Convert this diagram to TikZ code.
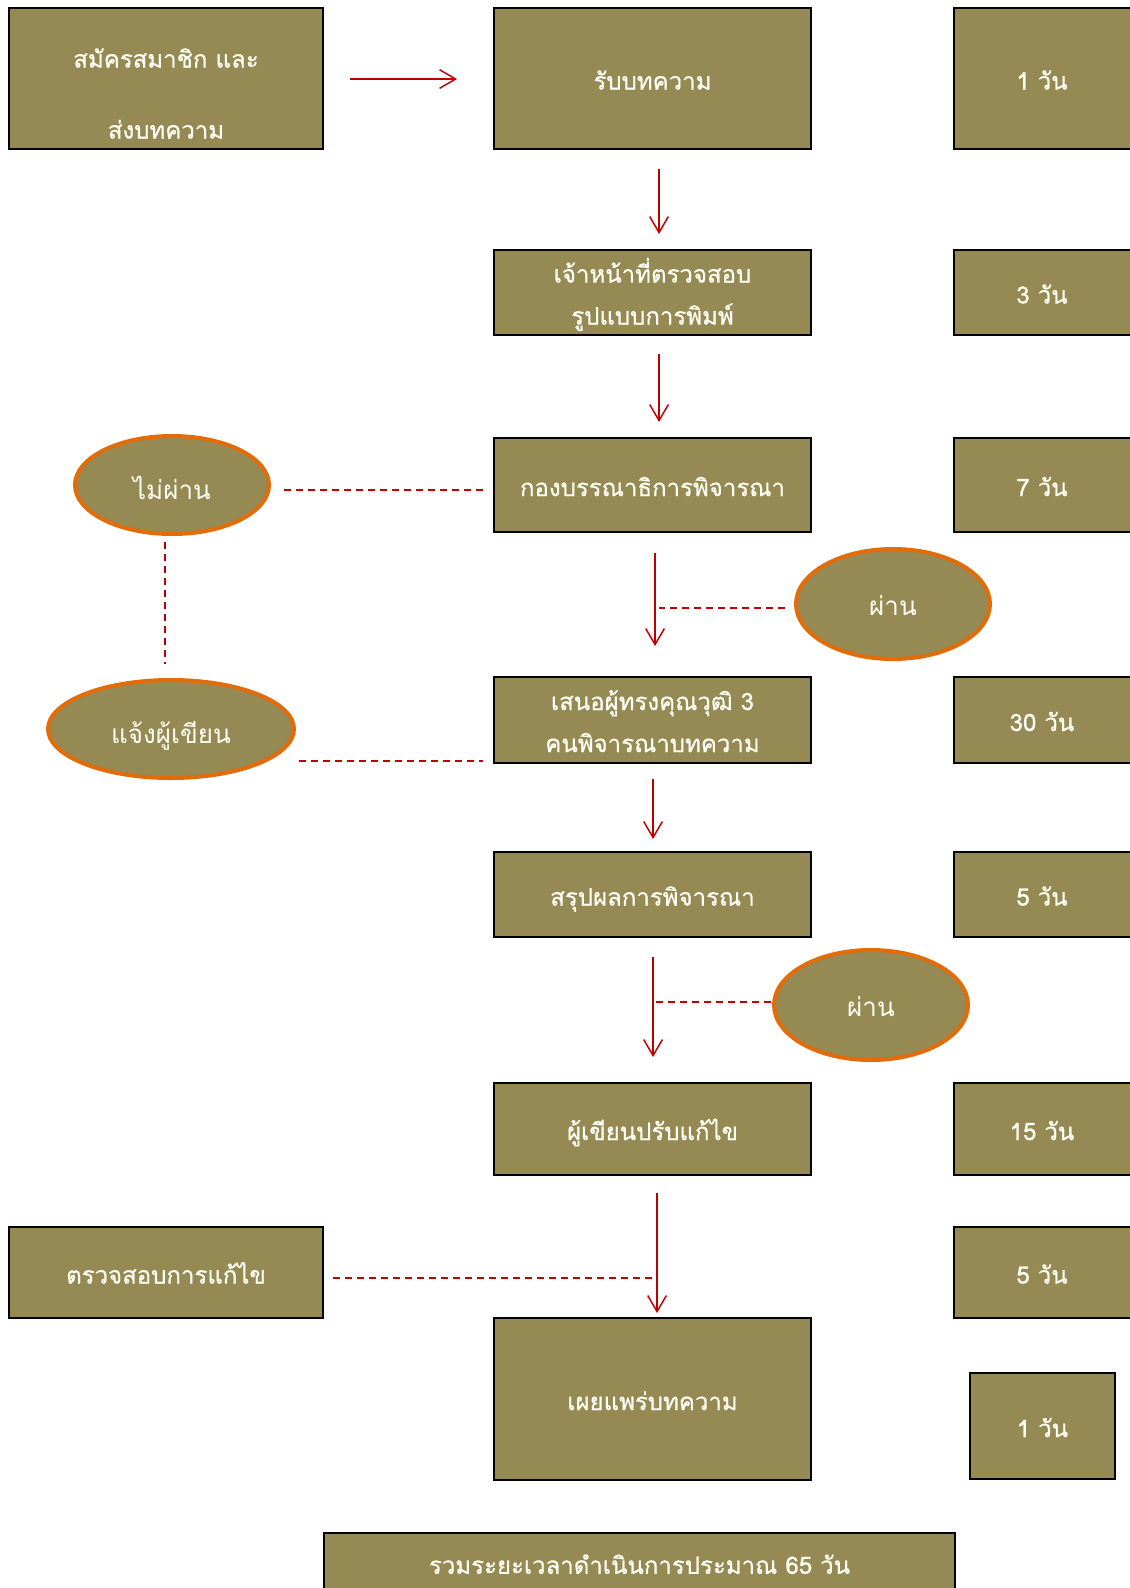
\documentclass[tikz,border=0pt]{standalone}
\usepackage{fontspec}
\newfontfamily\thai[Script=Thai]{Loma}
\newfontfamily\thaib[Script=Thai,FakeBold=0.7]{Loma}
\usetikzlibrary{arrows.meta,shapes.geometric}
\definecolor{olivebox}{RGB}{149,137,84}
\definecolor{txtc}{RGB}{255,255,245}
\definecolor{arrred}{RGB}{192,0,0}
\definecolor{ellborder}{RGB}{227,108,9}
\newcommand\tline[2][28.6pt]{\rule[-6pt]{0pt}{#1}#2}
\tikzset{
  box/.style={draw=black,line width=1.5pt,fill=olivebox,text=txtc,inner sep=0pt,align=center,
    font=\thaib\fontsize{18}{31.5}\selectfont,minimum width=237.75pt},
  daybox/.style={draw=black,line width=1.5pt,fill=olivebox,text=txtc,inner sep=0pt,
    font=\thaib\fontsize{18}{21}\selectfont,minimum width=136.5pt},
  oval/.style={ellipse,draw=ellborder,line width=3pt,fill=olivebox,text=txtc,inner sep=0pt,
    font=\thai\fontsize{19.5}{22}\selectfont},
  txt/.style={text=txtc,inner sep=0pt,font=\thaib\fontsize{18}{21}\selectfont},
  arr/.style={draw=arrred,line width=1.1pt,-{Straight Barb[length=12pt,width=14pt]}},
  dline/.style={draw=arrred,line width=1.1pt,dash pattern=on 5.5pt off 3.5pt},
}
\begin{document}
\begin{tikzpicture}[x=0.75pt,y=-0.75pt]
\clip (0,0) rectangle (1130,1588);
\fill[white] (0,0) rectangle (1130,1588);
% left column
\node[box,minimum width=235.5pt,minimum height=105.75pt] (A) at (166,78.5) {};
\node[txt] (A1) at (166,56.5) {\tline{สมัครสมาชิก และ}};
\node[txt] (A2) at (166,127.5) {\tline{ส่งบทความ}};
% main column
\node[box,minimum height=105.75pt] (B) at (652.5,78.5) {\tline{รับบทความ}};
\node[box,minimum height=63.75pt] (C) at (652.5,292.5) {\tline{เจ้าหน้าที่ตรวจสอบ}\\\tline{รูปแบบการพิมพ์}};
\node[box,minimum height=70.5pt] (D) at (652.5,485) {\tline{กองบรรณาธิการพิจารณา}};
\node[box,minimum height=64.5pt] (E) at (652.5,720) {\tline{เสนอผู้ทรงคุณวุฒิ 3}\\\tline{คนพิจารณาบทความ}};
\node[box,minimum height=63.75pt] (F) at (652.5,894.5) {\tline{สรุปผลการพิจารณา}};
\node[box,minimum height=69pt] (G) at (652.5,1129) {\tline{ผู้เขียนปรับแก้ไข}};
\node[box,minimum height=121.5pt] (H) at (652.5,1399) {\tline{เผยแพร่บทความ}};
\node[box,minimum width=235.5pt,minimum height=68.25pt] (L) at (166,1272.5) {\tline{ตรวจสอบการแก้ไข}};
\node[box,minimum width=473.25pt,minimum height=47.25pt] (T) at (639.5,1564.5) {\tline[26pt]{รวมระยะเวลาดำเนินการประมาณ 65 วัน}};
% day boxes
\node[daybox,minimum height=105.75pt] (R1) at (1045,78.5) {\hspace*{-4.5pt}\tline{1 วัน}};
\node[daybox,minimum height=63.75pt] (R2) at (1045,292.5) {\hspace*{-4.5pt}\tline{3 วัน}};
\node[daybox,minimum height=70.5pt] (R3) at (1045,485) {\hspace*{-4.5pt}\tline{7 วัน}};
\node[daybox,minimum height=64.5pt] (R4) at (1045,720) {\hspace*{-4.5pt}\tline{30 วัน}};
\node[daybox,minimum height=63.75pt] (R5) at (1045,894.5) {\hspace*{-4.5pt}\tline{5 วัน}};
\node[daybox,minimum height=69pt] (R6) at (1045,1129) {\hspace*{-4.5pt}\tline{15 วัน}};
\node[daybox,minimum height=68.25pt] (R7) at (1045,1272.5) {\hspace*{-4.5pt}\tline{5 วัน}};
\node[daybox,minimum width=108.75pt,minimum height=79.5pt] (R8) at (1042.5,1426) {\tline{1 วัน}};
% ovals
\node[oval,minimum width=145.5pt,minimum height=73.5pt] (no) at (172,485) {\tline[34pt]{ไม่ผ่าน}};
\node[oval,minimum width=184.5pt,minimum height=73.5pt] (notify) at (171,729) {\tline[34pt]{แจ้งผู้เขียน}};
\node[oval,minimum width=145.5pt,minimum height=82.5pt] (pass1) at (893,604) {\tline[29.6pt]{ผ่าน}};
\node[oval,minimum width=145.5pt,minimum height=82.5pt] (pass2) at (871,1005) {\tline[29.6pt]{ผ่าน}};
% arrows
\draw[arr,shorten <=19.5pt,shorten >=27pt] ([yshift=-0.4pt]A.east) -- ([yshift=-0.4pt]B.west);
\draw[arr,shorten <=14.25pt,shorten >=11.25pt] ([xshift=4.9pt]B.south) -- ([xshift=4.9pt]C.north);
\draw[arr,shorten <=13.5pt,shorten >=11.25pt] ([xshift=4.9pt]C.south) -- ([xshift=4.9pt]D.north);
\draw[arr,shorten <=15pt,shorten >=22.5pt] ([xshift=1.9pt]D.south) -- ([xshift=1.9pt]E.north);
\draw[arr,shorten <=11.25pt,shorten >=9pt] ([xshift=0.4pt]E.south) -- ([xshift=0.4pt]F.north);
\draw[arr,shorten <=14.25pt,shorten >=18.75pt] ([xshift=0.4pt]F.south) -- ([xshift=0.4pt]G.north);
\draw[arr,shorten <=12.75pt,shorten >=3pt] ([xshift=3.4pt]G.south) -- ([xshift=3.4pt]H.north);
% dashed connectors
\coordinate (Dx) at ([xshift=4.9pt]D.south);
\coordinate (Fx) at ([xshift=2.6pt]F.south);
\coordinate (Gx) at ([xshift=3.4pt]G.south);
\coordinate (noR) at ([yshift=-3.75pt]no.east);
\coordinate (noB) at ([xshift=-5.25pt]no.south);
\coordinate (ntT) at ([xshift=-4.5pt]notify.north);
\coordinate (Elow) at ([yshift=-30.75pt]E.west);
\coordinate (p1L) at ([yshift=-3pt]pass1.west);
\coordinate (p2L) at ([yshift=2.25pt]pass2.west);
\coordinate (LR) at ([yshift=-4.1pt]L.east);
\draw[dline,shorten <=9.75pt,shorten >=7.5pt] (noR) -- (noR -| D.west);
\draw[dline,shorten <=4.5pt,shorten >=10.5pt] (noB) -- (noB |- ntT);
\draw[dline,shorten <=2.25pt,shorten >=7.5pt] (Elow -| notify.east) -- (Elow);
\draw[dline,shorten <=6.75pt] (p1L) -- (p1L -| Dx);
\draw[dline,shorten <=0.75pt] (p2L) -- (p2L -| Fx);
\draw[dline,shorten <=6.75pt] (LR) -- (LR -| Gx);
\end{tikzpicture}
\end{document}
